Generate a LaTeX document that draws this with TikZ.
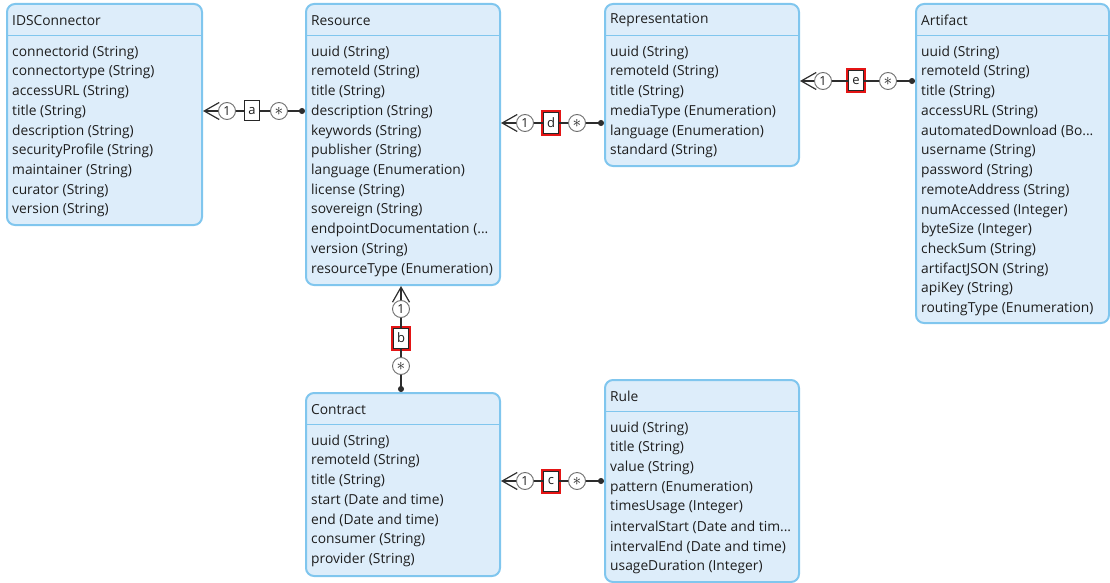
\documentclass[tikz,border=0pt]{standalone}
\usepackage{fontspec}
\setmainfont{Open Sans}
\usetikzlibrary{arrows.meta}
\definecolor{boxfill}{RGB}{221,237,250}
\definecolor{boxline}{RGB}{128,198,238}
\definecolor{txt}{RGB}{30,30,30}
\definecolor{conline}{RGB}{45,45,45}
\definecolor{multline}{RGB}{110,110,110}
\definecolor{hilite}{RGB}{228,20,20}

% dots for clipped attribute text
\newcommand{\clipdots}{...}

% #1 name, #2 x, #3 y, #4 width, #5 height, #6 title, #7 attribute rows
\newcommand{\umlclass}[7]{%
  \node[classbox, minimum width=#4, minimum height=#5, anchor=north west] (#1) at (#2,#3) {};
  \draw[boxline, line width=1.6] (#2,#3+32.5) -- ++(#4,0);
  \node[rowtext] (#1-title) at (#2+6,#3+17.5) {#6};
  \foreach \t [count=\i from 0] in {#7} {
    \node[rowtext] (#1-r\i) at (#2+6,#3+49.5+19.75*\i) {\t};
  }
}

\tikzset{
  classbox/.style={draw=boxline, fill=boxfill, line width=2, rounded corners=8, inner sep=0},
  rowtext/.style={anchor=west, inner sep=0, text=txt, font=\fontsize{13.8}{15}\selectfont},
  mult/.style={circle, draw=multline, fill=white, line width=0.9, minimum size=17, inner sep=0,
    text=txt, font=\fontsize{12.5}{12.5}\selectfont},
  role/.style={draw=black!85, fill=white, line width=1, minimum width=15, minimum height=20,
    inner sep=0, text=txt, font=\fontsize{13}{13}\selectfont},
  rolehl/.style={role, preaction={draw=hilite, line width=5}},
  conn/.style={draw=conline, line width=1.2},
  barb/.style={conn, -{Straight Barb[length=15, width=17, line width=1.2]}},
  dotend/.style={conn, {Circle[length=6]}-},
}
\newcommand{\many}{{\fontsize{16}{16}\selectfont$\ast$}}

\begin{document}
\begin{tikzpicture}[x=1pt, y=-1pt]
\useasboundingbox (0,0) rectangle (1110,583);

\umlclass{ids}{6}{3}{195}{221}{IDSConnector}{connectorid (String), connectortype (String),
  accessURL (String), title (String), description (String), securityProfile (String),
  maintainer (String), curator (String), version (String)}

\umlclass{res}{305}{3}{194}{281}{Resource}{uuid (String), remoteId (String), title (String),
  description (String), keywords (String), publisher (String), language (Enumeration),
  license (String), sovereign (String), endpointDocumentation (\clipdots,
  version (String), resourceType (Enumeration)}

\umlclass{rep}{604}{3}{194}{162}{Representation}{uuid (String), remoteId (String), title (String),
  mediaType (Enumeration), language (Enumeration), standard (String)}

\umlclass{art}{915}{3}{193}{319}{Artifact}{uuid (String), remoteId (String), title (String),
  accessURL (String), automatedDownload (Bo\clipdots, username (String), password (String),
  remoteAddress (String), numAccessed (Integer), byteSize (Integer), checkSum (String),
  artifactJSON (String), apiKey (String), routingType (Enumeration)}

\umlclass{con}{305}{392}{194}{183}{Contract}{uuid (String), remoteId (String), title (String),
  start (Date and time), end (Date and time), consumer (String), provider (String)}

\umlclass{rule}{604}{379}{194}{202}{Rule}{uuid (String), title (String), value (String),
  pattern (Enumeration), timesUsage (Integer), intervalStart (Date and tim\clipdots,
  intervalEnd (Date and time), usageDuration (Integer)}

% association a: IDSConnector -- Resource
\node[mult] (a-one) at (227,111) {1};
\node[role] (a-lab) at (252,111) {a};
\node[mult] (a-star) at (279,111) {\many};
\coordinate (a-src) at (ids.east |- a-lab);
\coordinate (a-end) at (res.west |- a-lab);
\draw[conn] (a-one) -- (a-lab) -- (a-star);
\draw[barb] (a-one) -- (a-src);
\draw[dotend] (a-end) -- (a-star);

% association d: Resource -- Representation
\node[mult] (d-one) at (525,123) {1};
\node[rolehl] (d-lab) at (551,123) {d};
\node[mult] (d-star) at (577,123) {\many};
\coordinate (d-src) at (res.east |- d-lab);
\coordinate (d-end) at (rep.west |- d-lab);
\draw[conn] (d-one) -- (d-lab) -- (d-star);
\draw[barb] (d-one) -- (d-src);
\draw[dotend] (d-end) -- (d-star);

% association e: Representation -- Artifact
\node[mult] (e-one) at (823,81) {1};
\node[rolehl] (e-lab) at (856,81) {e};
\node[mult] (e-star) at (888,81) {\many};
\coordinate (e-src) at (rep.east |- e-lab);
\coordinate (e-end) at (art.west |- e-lab);
\draw[conn] (e-one) -- (e-lab) -- (e-star);
\draw[barb] (e-one) -- (e-src);
\draw[dotend] (e-end) -- (e-star);

% association c: Contract -- Rule
\node[mult] (c-one) at (525,481) {1};
\node[rolehl] (c-lab) at (551,481) {c};
\node[mult] (c-star) at (577,481) {\many};
\coordinate (c-src) at (con.east |- c-lab);
\coordinate (c-end) at (rule.west |- c-lab);
\draw[conn] (c-one) -- (c-lab) -- (c-star);
\draw[barb] (c-one) -- (c-src);
\draw[dotend] (c-end) -- (c-star);

% association b: Resource -- Contract (vertical)
\node[mult] (b-one) at (401,309) {1};
\node[rolehl] (b-lab) at (401,338) {b};
\node[mult] (b-star) at (401,366) {\many};
\coordinate (b-src) at (res.south -| b-lab);
\coordinate (b-end) at (con.north -| b-lab);
\draw[conn] (b-one) -- (b-lab) -- (b-star);
\draw[barb] (b-one) -- (b-src);
\draw[dotend] (b-end) -- (b-star);
\end{tikzpicture}
\end{document}
